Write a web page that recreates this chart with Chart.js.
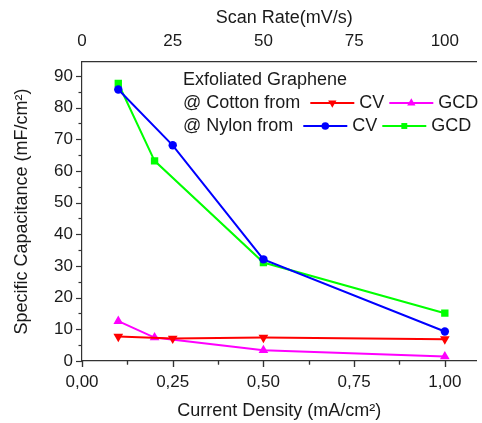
<!DOCTYPE html>
<html>
<head>
<meta charset="utf-8">
<script src="https://cdn.jsdelivr.net/npm/chart.js@4.4.1/dist/chart.umd.min.js"></script>
<style>
  html, body { margin: 0; padding: 0; background: #fff; }
  #wrap { width: 482px; height: 423px; }
</style>
</head>
<body>
<div id="wrap"><canvas id="capChart"></canvas></div>
<script>
// CV curves are measured against scan rate (top axis),
// GCD curves against current density (bottom axis)
const scanRates = [10, 25, 50, 100];
const currentDensities = [0.1, 0.2, 0.5, 1.0];

const cottonCV = [7.7, 7.1, 7.4, 6.9];
const cottonGCD = [12.6, 7.4, 3.4, 1.4];
const nylonCV = [85.7, 68.1, 32.1, 9.3];
const nylonGCD = [87.6, 63.2, 31.1, 15.1];

const densityTicks = [0, 0.25, 0.5, 0.75, 1.0];
const rateTicks = [0, 25, 50, 75, 100];
const capTicks = [0, 10, 20, 30, 40, 50, 60, 70, 80, 90];

const FONT = "'Liberation Sans', Arial, sans-serif";
const INK = "#1a1a1a";

const toPoints = (xs, ys) => xs.map((x, i) => ({ x: x, y: ys[i] }));

const markerSize = { circle: 4.2, rect: 5.2, triangle: 5.6 };
const legendMarkerSize = { circle: 3.8, rect: 4.2, triangle: 4.8 };

function series(label, short, xs, ys, color, style, rotation, axis) {
  return {
    label: label,
    short: short,
    data: toPoints(xs, ys),
    xAxisID: axis,
    showLine: true,
    borderColor: color,
    backgroundColor: color,
    borderWidth: 2,
    pointStyle: style,
    pointRotation: rotation,
    pointRadius: markerSize[style],
    pointBorderWidth: 0,
    tension: 0,
  };
}

const datasets = [
  series("Cotton CV", "CV", scanRates, cottonCV, "#ff0000", "triangle", 180, "x2"),
  series("Cotton GCD", "GCD", currentDensities, cottonGCD, "#ff00ff", "triangle", 0, "x"),
  series("Nylon CV", "CV", scanRates, nylonCV, "#0000ff", "circle", 0, "x2"),
  series("Nylon GCD", "GCD", currentDensities, nylonGCD, "#00ff00", "rect", 0, "x"),
];

const isOn = (v, list) => list.some((t) => Math.abs(t - v) < 1e-6);
const commaFmt = (v) => v.toFixed(2).replace(".", ",");

// ticks: major + one minor between majors; top axis ticks point inward
const tickMarks = {
  id: "tickMarks",
  afterDraw(chart) {
    const { ctx, chartArea, scales } = chart;
    ctx.save();
    ctx.strokeStyle = "#333";
    ctx.lineWidth = 1.2;
    const draw = (scale, majors, horiz, dir) => {
      const step = majors[1] - majors[0];
      for (let v = majors[0]; v <= scale.max + 1e-9; v += step / 2) {
        const len = isOn(v, majors) ? 6 : 3.5;
        const p = Math.round(scale.getPixelForValue(v)) + 0.5;
        ctx.beginPath();
        if (horiz) {
          const y0 = dir > 0 ? chartArea.bottom : chartArea.top;
          ctx.moveTo(p, y0);
          ctx.lineTo(p, y0 + len);
        } else {
          ctx.moveTo(chartArea.left, p);
          ctx.lineTo(chartArea.left - len, p);
        }
        ctx.stroke();
      }
    };
    draw(scales.x, densityTicks, true, 1);
    draw(scales.x2, rateTicks, true, 1);
    draw(scales.y, capTicks, false, -1);
    ctx.restore();
  },
};

// axis titles
const axisTitles = {
  id: "axisTitles",
  afterDraw(chart) {
    const { ctx, chartArea } = chart;
    ctx.save();
    ctx.fillStyle = INK;
    ctx.font = "18px " + FONT;
    ctx.textAlign = "center";
    ctx.textBaseline = "middle";
    const cx = (chartArea.left + chartArea.right) / 2;
    ctx.fillText("Current Density (mA/cm\u00B2)", cx, 411);
    ctx.fillText("Scan Rate(mV/s)", cx + 5, 18);
    ctx.translate(22, (chartArea.top + chartArea.bottom) / 2);
    ctx.rotate(-Math.PI / 2);
    ctx.fillText("Specific Capacitance (mF/cm\u00B2)", 0, 0);
    ctx.restore();
  },
};

// in-plot legend: header plus one row per substrate
const legendRows = [
  { text: "@ Cotton from", items: [0, 1] },
  { text: "@ Nylon from", items: [2, 3] },
];

const plotLegend = {
  id: "plotLegend",
  afterDraw(chart) {
    const { ctx } = chart;
    const x0 = 183;
    ctx.save();
    ctx.fillStyle = INK;
    ctx.font = "18px " + FONT;
    ctx.textAlign = "left";
    ctx.textBaseline = "middle";
    ctx.fillText("Exfoliated Graphene", x0, 80);
    legendRows.forEach((row, r) => {
      const y = 103 + r * 23;
      ctx.fillStyle = INK;
      ctx.fillText(row.text, x0, y);
      let x = x0 + ctx.measureText(row.text).width + 10;
      row.items.forEach((idx) => {
        const ds = chart.data.datasets[idx];
        ctx.strokeStyle = ds.borderColor;
        ctx.lineWidth = 2;
        ctx.beginPath();
        ctx.moveTo(x, y);
        ctx.lineTo(x + 44, y);
        ctx.stroke();
        ctx.fillStyle = ds.backgroundColor;
        Chart.helpers.drawPoint(ctx, {
          pointStyle: ds.pointStyle,
          rotation: ds.pointRotation,
          radius: legendMarkerSize[ds.pointStyle],
          borderWidth: 0,
        }, x + 22, y);
        x += 49;
        ctx.fillStyle = INK;
        ctx.fillText(ds.short, x, y);
        x += ctx.measureText(ds.short).width + 5;
      });
    });
    ctx.restore();
  },
};

const ctx = document.getElementById("capChart").getContext("2d");

new Chart(ctx, {
  type: "scatter",
  data: { datasets: datasets },
  plugins: [tickMarks, axisTitles, plotLegend],
  options: {
    responsive: true,
    maintainAspectRatio: false,
    animation: false,
    layout: { padding: 0 },
    plugins: {
      legend: { display: false },
      tooltip: { enabled: false },
    },
    scales: {
      x: {
        type: "linear",
        position: "bottom",
        min: 0,
        max: 1.087,
        afterFit: (s) => { s.height = 62; },
        afterBuildTicks: (s) => { s.ticks = densityTicks.map((v) => ({ value: v })); },
        grid: { display: false, drawTicks: false },
        border: { display: true, color: "#333", width: 1.2 },
        ticks: {
          autoSkip: false,
          maxRotation: 0,
          padding: 11,
          color: INK,
          font: { family: FONT, size: 17 },
          callback: (v) => commaFmt(v),
        },
      },
      x2: {
        type: "linear",
        position: "top",
        min: 0,
        max: 108.7,
        afterFit: (s) => { s.height = 62; },
        afterBuildTicks: (s) => { s.ticks = rateTicks.map((v) => ({ value: v })); },
        grid: { display: false, drawTicks: false },
        border: { display: true, color: "#333", width: 1.2 },
        ticks: {
          autoSkip: false,
          maxRotation: 0,
          padding: 10,
          color: INK,
          font: { family: FONT, size: 17 },
        },
      },
      y: {
        type: "linear",
        position: "left",
        min: 0,
        max: 94.4,
        afterFit: (s) => { s.width = 82; },
        afterBuildTicks: (s) => { s.ticks = capTicks.map((v) => ({ value: v })); },
        grid: { display: false, drawTicks: false },
        border: { display: true, color: "#333", width: 1.2 },
        ticks: {
          padding: 9,
          color: INK,
          font: { family: FONT, size: 17 },
        },
      },
    },
  },
});
</script>
</body>
</html>
